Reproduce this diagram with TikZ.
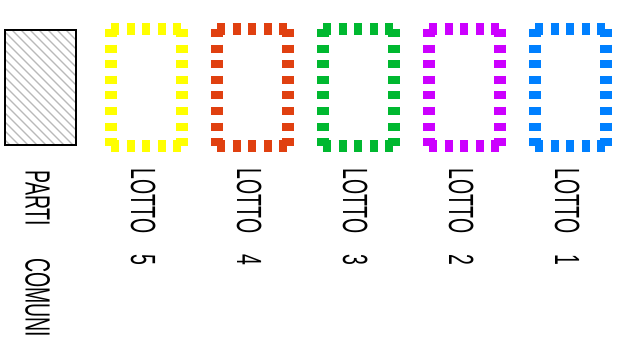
\documentclass[tikz,border=0pt]{standalone}
\usepackage{fontspec}
\newfontfamily\lblfont{Liberation Sans}
\definecolor{lyellow}{RGB}{255,255,0}
\definecolor{lred}{RGB}{224,64,16}
\definecolor{lgreen}{RGB}{0,184,48}
\definecolor{lpurple}{RGB}{204,0,255}
\definecolor{lblue}{RGB}{0,128,255}
\definecolor{hatchgray}{RGB}{185,185,185}
\tikzset{
  lotside/.style={line width=12pt, dash pattern=on 8pt off 7.6pt},
  hatchline/.style={hatchgray, line width=1.3pt},
  lbl/.style={rotate=-90, anchor=base west, inner sep=0pt,
    font=\lblfont\fontsize{35}{35}\selectfont},
}
\begin{document}
\begin{tikzpicture}[x=1pt,y=-1pt]
\useasboundingbox (0,0) rectangle (622,350);
% common parts box
\begin{scope}
  \clip (5,30) rectangle (76,145);
  \foreach \c in {-99,-90,...,150} \draw[hatchline] (0,\c) -- ++(170,170);
\end{scope}
\draw[line width=2pt] (5,30) rectangle (76,145);
\coordinate (common) at (40.5,87.5);
% lot boxes
\foreach \i/\col in {0/lyellow,1/lred,2/lgreen,3/lpurple,4/lblue}{
  \pgfmathsetmacro{\xl}{111+106*\i}
  \pgfmathsetmacro{\xr}{182+106*\i}
  \coordinate (tl\i) at (\xl,29);
  \coordinate (tr\i) at (\xr,29);
  \coordinate (bl\i) at (\xl,146);
  \coordinate (br\i) at (\xr,146);
  \draw[lotside,\col] (tl\i) -- (tr\i);
  \draw[lotside,\col] (bl\i) -- (br\i);
  \draw[lotside,\col] (tl\i) -- (bl\i);
  \draw[lotside,\col] (tr\i) -- (br\i);
}
% labels
\node[lbl] (lcomuni) at (25.5,170.5) {\scalebox{0.557}[1]{PARTI\hspace{57pt}COMUNI}};
\foreach \i in {0,...,4}{
  \pgfmathtruncatemacro{\n}{5-\i}
  \pgfmathsetmacro{\xb}{131+106*\i}
  \node[lbl] (lotto\n) at (\xb,168.6) {\scalebox{0.557}[1]{LOTTO\hspace{37pt}\n}};
}
\end{tikzpicture}
\end{document}
